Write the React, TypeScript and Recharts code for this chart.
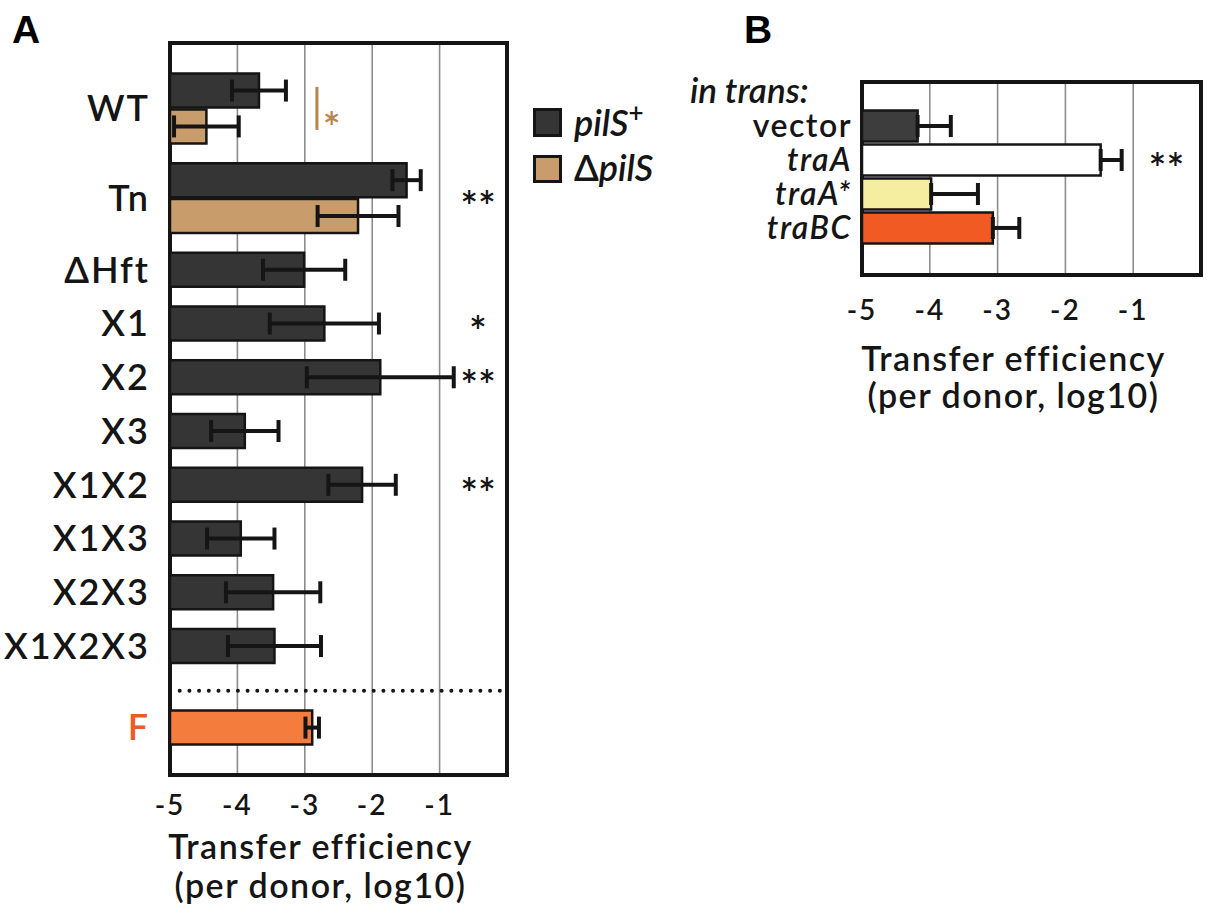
import {
  Bar,
  BarChart,
  CartesianGrid,
  Cell,
  ErrorBar,
  ReferenceArea,
  ReferenceDot,
  ReferenceLine,
  XAxis,
  YAxis,
} from "recharts";

const FONT = "Lato, 'Open Sans', 'DejaVu Sans', sans-serif";
const INK = "#151515";
const GRID = "#8c8c8c";
const DARK = "#353535";
const TAN = "#c99c6c";
const TAN_MARK = "#b8844f";
const F_ORANGE = "#f47c3d";
const F_LABEL = "#ee5a24";

// panel A: transfer efficiency (log10 per donor) by strain
const strainsA = ["WT", "Tn", "ΔHft", "X1", "X2", "X3", "X1X2", "X1X3", "X2X3", "X1X2X3"];
const pilSPlusMean = [-3.68, -1.49, -3.01, -2.71, -1.88, -3.89, -2.15, -3.95, -3.47, -3.45];
const pilSPlusErr = [0.4, 0.21, 0.61, 0.81, 1.09, 0.5, 0.5, 0.5, 0.7, 0.69];
const deltaPilSStrains = ["WT", "Tn"];
const deltaPilSMean = [-4.46, -2.21];
const deltaPilSErr = [0.48, 0.6];
const fLabel = "F";
const fMean = -2.89;
const fErr = 0.1;
const sigStrainsA = ["Tn", "X1", "X2", "X1X2"];
const sigMarksA = ["**", "*", "**", "**"];

// panel B: in trans complementation
const constructsB = ["vector", "traA", "traA*", "traBC"];
const meanB = [-4.18, -1.48, -3.98, -3.07];
const errB = [0.49, 0.31, 0.69, 0.39];
const fillsB = ["#3d3d3d", "#ffffff", "#f5eda0", "#f15a22"];
const sigConstructB = "traA";
const sigMarkB = "**";

const xTicks = [-5, -4, -3, -2, -1];
const FLOOR = -5; // bars grow from the left edge of the axis
const CEIL = 0;
const SIG_X_A = -0.43;
const SIG_X_B = -0.51;
const TAN_X = -2.82;
const TAN_STAR_X = -2.6;

// row layout of panel A, in half-bar units
const TOP_PAD = 1.65;
const BAR = 2;
const GAP = 1;
const SEP_GAP = 1.55;
const BOTTOM_PAD = 1.65;

// row layout of panel B, in row units
const TOP_PAD_B = 0.81;
const BOTTOM_PAD_B = 0.87;

type RowA = { pos: number; len: number; err: number; fill: string };

function buildPanelA() {
  const rows: RowA[] = [];
  const tickPos: number[] = [];
  const tickLabel: string[] = [];
  let cursor = TOP_PAD;
  strainsA.forEach((name, i) => {
    const start = cursor;
    rows.push({ pos: cursor + BAR / 2, len: pilSPlusMean[i] - FLOOR, err: pilSPlusErr[i], fill: DARK });
    cursor += BAR;
    const d = deltaPilSStrains.indexOf(name);
    if (d >= 0) {
      rows.push({ pos: cursor + BAR / 2, len: deltaPilSMean[d] - FLOOR, err: deltaPilSErr[d], fill: TAN });
      cursor += BAR;
    }
    tickPos.push((start + cursor) / 2);
    tickLabel.push(name);
    cursor += GAP;
  });
  const sepPos = cursor + 0.5;
  cursor += SEP_GAP;
  rows.push({ pos: cursor + BAR / 2, len: fMean - FLOOR, err: fErr, fill: F_ORANGE });
  tickPos.push(cursor + BAR / 2);
  tickLabel.push(fLabel);
  cursor += BAR;
  return { rows, tickPos, tickLabel, sepPos, end: cursor + BOTTOM_PAD };
}

const panelA = buildPanelA();

const rowsB = constructsB.map((name, i) => ({
  name,
  pos: TOP_PAD_B + i + 0.5,
  len: meanB[i] - FLOOR,
  err: [0, errB[i]],
}));
const endB = TOP_PAD_B + constructsB.length + BOTTOM_PAD_B;

const shiftedTicks = xTicks.map((t) => t - FLOOR);

const valueTick = (lift: number) => (p: any) => (
  <text
    x={p.x}
    y={p.y + lift}
    textAnchor="middle"
    fontFamily={FONT}
    fontSize={28}
    fontWeight={600}
    letterSpacing={2}
    fill={INK}
  >
    {String(p.payload.value + FLOOR)}
  </text>
);

const axisTitle = (l1: number, l2: number) => (p: any) => {
  const vb = p.viewBox || {};
  const cx = vb.x + vb.width / 2 - 18;
  return (
    <text textAnchor="middle" fontFamily={FONT} fontSize={34} fontWeight={600} fill={INK} letterSpacing={1.5}>
      <tspan x={cx} y={vb.y + l1}>Transfer efficiency</tspan>
      <tspan x={cx} y={vb.y + l2}>(per donor, log10)</tspan>
    </text>
  );
};

const markShape = (mark: string, color: string, size: number, dx = 0, dy = 0) => (p: any) => (
  <text
    x={p.cx + dx}
    y={p.cy + size * 0.57 + dy}
    textAnchor="middle"
    fontFamily={FONT}
    fontSize={size}
    fontWeight={600}
    fill={color}
  >
    {mark}
  </text>
);

const StrainTick = (p: any) => {
  const label = panelA.tickLabel[p.index];
  return (
    <text
      x={p.x}
      y={p.y}
      dy="0.36em"
      textAnchor="end"
      fontFamily={FONT}
      fontSize={36}
      fontWeight={600}
      letterSpacing={2}
      fill={label === fLabel ? F_LABEL : INK}
    >
      {label}
    </text>
  );
};

const ConstructTick = (p: any) => {
  const name = constructsB[p.index];
  return (
    <text
      x={p.x}
      y={p.y}
      dy="0.34em"
      textAnchor="end"
      fontFamily={FONT}
      fontSize={32}
      fontWeight={600}
      fontStyle={name.startsWith("tra") ? "italic" : "normal"}
      letterSpacing={1.5}
      fill={INK}
    >
      {name}
    </text>
  );
};

function PanelA() {
  const { rows, tickPos, tickLabel, sepPos, end } = panelA;
  const wtCenter = tickPos[tickLabel.indexOf("WT")];
  return (
    <BarChart
      layout="vertical"
      width={520}
      height={913}
      data={rows}
      margin={{ top: 43, right: 13, bottom: 8, left: 10 }}
    >
      <CartesianGrid horizontal={false} stroke={GRID} strokeWidth={1.6} />
      <XAxis
        type="number"
        domain={[0, CEIL - FLOOR]}
        ticks={shiftedTicks}
        interval={0}
        allowDataOverflow
        axisLine={false}
        tickLine={false}
        tickSize={0}
        tickMargin={0}
        height={130}
        tick={valueTick(40)}
        label={{ content: axisTitle(84, 123) }}
      />
      <YAxis
        type="number"
        dataKey="pos"
        domain={[0, end]}
        allowDataOverflow
        ticks={tickPos}
        interval={0}
        width={160}
        axisLine={false}
        tickLine={false}
        tickSize={0}
        tickMargin={20}
        tick={StrainTick}
      />
      <ReferenceLine
        y={sepPos}
        stroke={INK}
        strokeWidth={4}
        strokeDasharray="0 9.7"
        strokeLinecap="round"
      />
      <ReferenceLine
        segment={[
          { x: TAN_X - FLOOR, y: wtCenter - 1.2 },
          { x: TAN_X - FLOOR, y: wtCenter + 1.2 },
        ]}
        stroke={TAN_MARK}
        strokeWidth={3}
      />
      <ReferenceDot
        x={TAN_STAR_X - FLOOR}
        y={wtCenter}
        r={0}
        shape={markShape("*", TAN_MARK, 42, 0, 11)}
      />
      <Bar dataKey="len" barSize={34} stroke={INK} strokeWidth={2.5} isAnimationActive={false}>
        {rows.map((r, i) => (
          <Cell key={i} fill={r.fill} />
        ))}
        <ErrorBar
          dataKey="err"
          direction="x"
          width={11}
          stroke={INK}
          strokeWidth={4}
          isAnimationActive={false}
        />
      </Bar>
      {sigStrainsA.map((s, i) => (
        <ReferenceDot
          key={s}
          x={SIG_X_A - FLOOR}
          y={tickPos[tickLabel.indexOf(s)]}
          r={0}
          shape={markShape(sigMarksA[i], INK, 42)}
        />
      ))}
      <ReferenceArea x1={0} x2={CEIL - FLOOR} fill="none" stroke={INK} strokeWidth={4} />
    </BarChart>
  );
}

function PanelB() {
  const sigRow = rowsB[constructsB.indexOf(sigConstructB)];
  return (
    <BarChart
      layout="vertical"
      width={530}
      height={430}
      data={rowsB}
      margin={{ top: 82, right: 9, bottom: 8, left: 10 }}
    >
      <CartesianGrid horizontal={false} stroke={GRID} strokeWidth={1.6} />
      <XAxis
        type="number"
        domain={[0, CEIL - FLOOR]}
        ticks={shiftedTicks}
        interval={0}
        allowDataOverflow
        axisLine={false}
        tickLine={false}
        tickSize={0}
        tickMargin={0}
        height={147}
        tick={valueTick(45)}
        label={{ content: axisTitle(96, 133) }}
      />
      <YAxis
        type="number"
        dataKey="pos"
        domain={[0, endB]}
        allowDataOverflow
        ticks={rowsB.map((r) => r.pos)}
        interval={0}
        width={172}
        axisLine={false}
        tickLine={false}
        tickSize={0}
        tickMargin={10}
        tick={ConstructTick}
      />
      <Bar dataKey="len" barSize={31} stroke={INK} strokeWidth={2.5} isAnimationActive={false}>
        {rowsB.map((r, i) => (
          <Cell key={r.name} fill={fillsB[i]} />
        ))}
        <ErrorBar
          dataKey="err"
          direction="x"
          width={11}
          stroke={INK}
          strokeWidth={4}
          isAnimationActive={false}
        />
      </Bar>
      <ReferenceDot
        x={SIG_X_B - FLOOR}
        y={sigRow.pos}
        r={0}
        shape={markShape(sigMarkB, INK, 42)}
      />
      <ReferenceArea x1={0} x2={CEIL - FLOOR} fill="none" stroke={INK} strokeWidth={4} />
    </BarChart>
  );
}

export default function App() {
  return (
    <div
      style={{
        position: "absolute",
        left: 0,
        top: 0,
        width: 1211,
        height: 913,
        background: "#fff",
        overflow: "hidden",
      }}
    >
      <div style={{ position: "absolute", left: 0, top: 0 }}>
        <PanelA />
      </div>
      <div style={{ position: "absolute", left: 680, top: 0 }}>
        <PanelB />
      </div>
      <svg
        width={1211}
        height={913}
        style={{ position: "absolute", left: 0, top: 0, pointerEvents: "none" }}
      >
        <g fontFamily="'Liberation Sans', Arial, sans-serif" fontWeight="bold" fontSize={39} fill="#000">
          <text x={12} y={43}>A</text>
          <text x={744} y={43}>B</text>
        </g>
        {/* legend of panel A */}
        <rect x={534.5} y={109.5} width={26} height={26} fill={DARK} stroke={INK} strokeWidth={3} />
        <rect x={534.5} y={156.5} width={26} height={25} fill={TAN} stroke={INK} strokeWidth={3} />
        <g fontFamily={FONT} fontSize={36} fontWeight={600} fill={INK}>
          <text x={574} y={136}>
            <tspan fontStyle="italic">pilS</tspan>
            <tspan fontSize={26} dy={-14}>+</tspan>
          </text>
          <text x={574} y={181}>
            <tspan>Δ</tspan>
            <tspan fontStyle="italic">pilS</tspan>
          </text>
          <text x={690} y={103} fontSize={35} fontStyle="italic">
            in trans:
          </text>
        </g>
      </svg>
    </div>
  );
}
